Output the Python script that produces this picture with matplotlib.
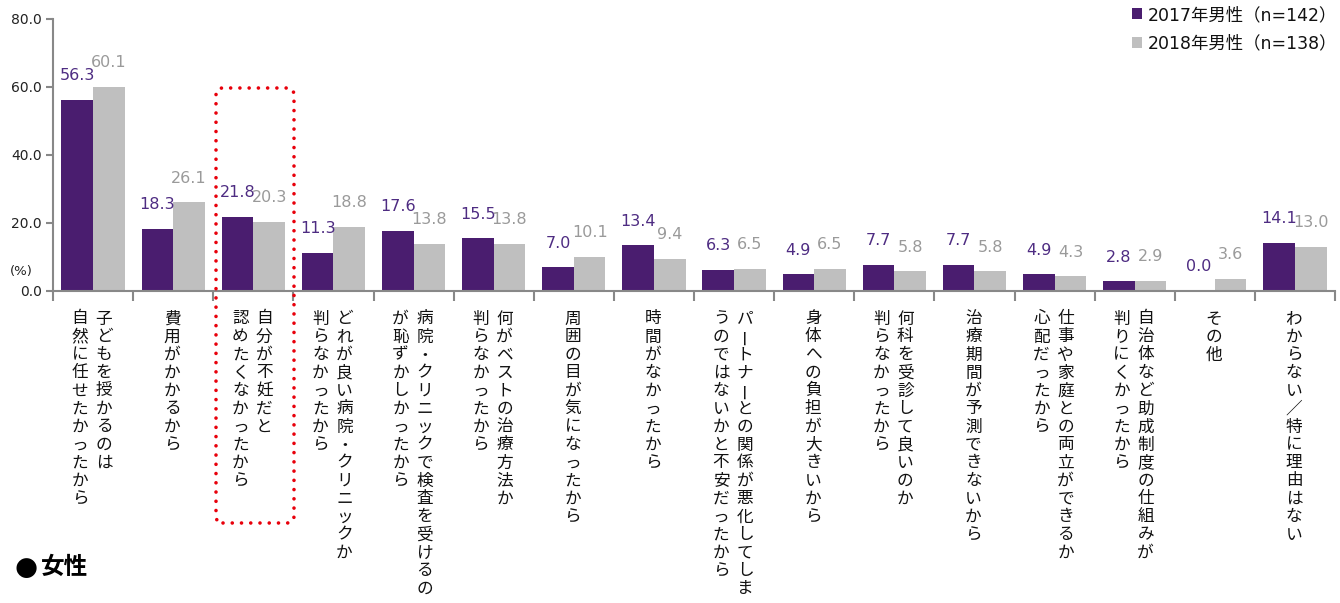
import matplotlib
matplotlib.use("Agg")
import matplotlib.pyplot as plt
from matplotlib.patches import FancyBboxPatch
from matplotlib.transforms import IdentityTransform
import numpy as np

plt.rcParams['font.family'] = ['DejaVu Sans', 'Noto Sans CJK JP']

categories = [
    ["子どもを授かるのは", "自然に任せたかったから"],
    ["費用がかかるから"],
    ["自分が不妊だと", "認めたくなかったから"],
    ["どれが良い病院・クリニックか", "判らなかったから"],
    ["病院・クリニックで検査を受けるの", "が恥ずかしかったから"],
    ["何がベストの治療方法か", "判らなかったから"],
    ["周囲の目が気になったから"],
    ["時間がなかったから"],
    ["パートナーとの関係が悪化してしま", "うのではないかと不安だったから"],
    ["身体への負担が大きいから"],
    ["何科を受診して良いのか", "判らなかったから"],
    ["治療期間が予測できないから"],
    ["仕事や家庭との両立ができるか", "心配だったから"],
    ["自治体など助成制度の仕組みが", "判りにくかったから"],
    ["その他"],
    ["わからない／特に理由はない"],
]
values_2017 = [56.3, 18.3, 21.8, 11.3, 17.6, 15.5, 7.0, 13.4, 6.3, 4.9, 7.7, 7.7, 4.9, 2.8, 0.0, 14.1]
values_2018 = [60.1, 26.1, 20.3, 18.8, 13.8, 13.8, 10.1, 9.4, 6.5, 6.5, 5.8, 5.8, 4.3, 2.9, 3.6, 13.0]
series_names = ["2017年男性（n=142）", "2018年男性（n=138）"]
yticks = [0, 20, 40, 60, 80]

PURPLE = "#4A1D6F"
GRAY = "#BFBFBF"
PURPLE_TXT = "#4E2C82"
GRAY_TXT = "#9A9A9A"
AXIS = "#888888"

W, H = 1340, 603
fig = plt.figure(figsize=(W / 100, H / 100), dpi=100)
ax = fig.add_axes([53 / W, 1 - 291 / H, (1335 - 53) / W, (291 - 19) / H])

n = len(categories)
x = np.arange(n)
bw = 0.395
ax.bar(x - bw / 2, values_2017, bw, color=PURPLE, label=series_names[0])
ax.bar(x + bw / 2, values_2018, bw, color=GRAY, label=series_names[1])

for xi, v in zip(x, values_2017):
    ax.annotate(f"{v:.1f}", (xi - bw / 2, v), xytext=(0, 12), textcoords="offset points",
                ha="center", va="bottom", fontsize=11.5, color=PURPLE_TXT, family="DejaVu Sans")
for xi, v in zip(x, values_2018):
    ax.annotate(f"{v:.1f}", (xi + bw / 2, v), xytext=(0, 12), textcoords="offset points",
                ha="center", va="bottom", fontsize=11.5, color=GRAY_TXT, family="DejaVu Sans")

ax.set_xlim(-0.5, n - 0.5)
ax.set_ylim(0, 80)
ax.set_yticks(yticks)
ax.set_yticklabels([f"{t:.1f}" for t in yticks], fontsize=10, color="#222222")
ax.set_xticks([])
ax.set_xticks(np.arange(-0.5, n), minor=True)
ax.tick_params(axis="x", which="minor", length=7, width=1.5, color=AXIS, direction="out")
ax.tick_params(axis="y", length=5, width=1.5, color=AXIS, direction="out", pad=3)
for s in ["top", "right"]:
    ax.spines[s].set_visible(False)
for s in ["left", "bottom"]:
    ax.spines[s].set_color(AXIS)
    ax.spines[s].set_linewidth(1.5)

# vertical Japanese category labels (columns right-to-left)
pitch = 18.0
top_off = 19.0 + 9
rotate_chars = set("ー")
for i, cols in enumerate(categories):
    ncol = len(cols)
    offs = [-1] if ncol == 1 else [11, -13]
    for col, dx in zip(cols, offs):
        for k, ch in enumerate(col):
            rot = 90 if ch in rotate_chars else 0
            ax.annotate(ch, (i, 0), xycoords=("data", "axes fraction"),
                        xytext=(dx, -(top_off + k * pitch)), textcoords="offset pixels",
                        ha="center", va="center", fontsize=12, rotation=rot,
                        family="Noto Sans CJK JP", color="#111111", annotation_clip=False)

# (%) label
fig.text(10 / W, 1 - 272 / H, "(%)", fontsize=9.5, ha="left", va="center", color="#222222")

# legend
leg = ax.legend(loc="upper right", bbox_to_anchor=(1337 / W, 1 - 6 / H),
                bbox_transform=fig.transFigure, frameon=False, fontsize=12.5,
                handlelength=0.6, handleheight=0.6, handletextpad=0.3,
                labelspacing=0.62, borderaxespad=0, borderpad=0)
for t in leg.get_texts():
    t.set_color("#111111")

# dotted highlight box around third category label
box = FancyBboxPatch((216, H - 523), 78, 435, boxstyle="round,pad=0,rounding_size=7",
                     transform=IdentityTransform(), fill=False, edgecolor="#E8000B",
                     linewidth=2.6, linestyle=(0, (0.01, 2.55)), capstyle="round",
                     clip_on=False)
fig.add_artist(box)

# section title
fig.text(15 / W, 1 - 568 / H, "●", fontsize=19, ha="left", va="center",
         family="DejaVu Sans", color="#000000")
fig.text(41 / W, 1 - 567 / H, "女性", fontsize=17, fontweight="bold", ha="left", va="center",
         family="Noto Sans CJK JP", color="#000000")

fig.savefig("out.png", dpi=100)
